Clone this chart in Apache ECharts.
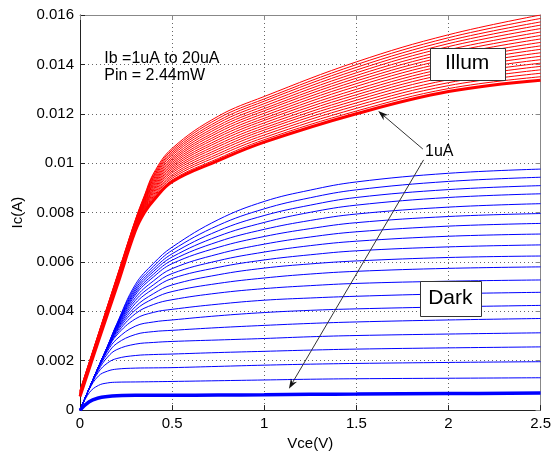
<!DOCTYPE html>
<html><head><meta charset="utf-8">
<script src="https://cdn.jsdelivr.net/npm/echarts@6/dist/echarts.min.js"></script>
<style>html,body{margin:0;padding:0;background:#fff}#c{width:554px;height:456px}</style>
</head><body><div id="c"></div>
<script>
// ---- axes / ticks ----
const xTicks = [0, 0.5, 1, 1.5, 2, 2.5];
const yTicks = [0, 0.002, 0.004, 0.006, 0.008, 0.01, 0.012, 0.014, 0.016];
const xTitle = 'Vce(V)';
const yTitle = 'Ic(A)';

// ---- Dark curves (Ib = 1uA .. 20uA), Vce sample points ----
const darkV = [0, 0.05, 0.1, 0.15, 0.2, 0.3, 0.4, 0.5, 0.75, 1, 1.25, 1.5, 2, 2.5];
const dark01 = [0, 0.00034, 0.00049, 0.00055, 0.00058, 0.0006, 0.0006, 0.0006, 0.00061, 0.00062, 0.00064, 0.00065, 0.00067, 0.00069];
const dark02 = [0, 0.0007, 0.001, 0.0011, 0.00113, 0.00114, 0.00115, 0.00116, 0.00119, 0.00122, 0.00125, 0.00127, 0.00129, 0.00131];
const dark03 = [0, 0.00084, 0.00138, 0.00158, 0.00166, 0.0017, 0.00171, 0.00172, 0.00177, 0.00182, 0.00186, 0.00189, 0.00193, 0.00196];
const dark04 = [0, 0.00086, 0.00154, 0.00191, 0.00209, 0.00221, 0.00225, 0.00227, 0.00233, 0.00238, 0.00243, 0.00247, 0.00252, 0.00256];
const dark05 = [0, 0.00087, 0.00162, 0.00215, 0.00245, 0.00267, 0.00274, 0.00278, 0.00284, 0.0029, 0.00297, 0.00302, 0.00308, 0.00313];
const dark06 = [0, 0.00087, 0.00168, 0.00229, 0.0027, 0.00306, 0.00318, 0.00323, 0.00334, 0.00343, 0.00351, 0.00357, 0.00365, 0.00371];
const dark07 = [0, 0.00087, 0.0017, 0.0024, 0.00288, 0.0034, 0.00357, 0.00365, 0.00382, 0.00395, 0.00404, 0.0041, 0.00418, 0.00424];
const dark08 = [0, 0.00087, 0.00172, 0.00246, 0.00304, 0.00369, 0.00396, 0.00408, 0.00429, 0.00445, 0.00454, 0.00461, 0.00471, 0.00477];
const dark09 = [0, 0.00087, 0.00172, 0.0025, 0.00311, 0.0039, 0.00428, 0.00447, 0.00474, 0.00492, 0.00504, 0.00513, 0.00522, 0.00527];
const dark10 = [0, 0.00087, 0.00173, 0.00251, 0.00318, 0.00405, 0.00452, 0.0048, 0.00513, 0.00535, 0.00551, 0.00562, 0.00574, 0.0058];
const dark11 = [0, 0.00087, 0.00173, 0.00252, 0.00323, 0.00418, 0.00472, 0.00507, 0.00548, 0.00575, 0.00592, 0.00604, 0.00618, 0.00624];
const dark12 = [0, 0.00087, 0.00174, 0.00254, 0.00327, 0.00432, 0.00492, 0.00533, 0.00578, 0.00608, 0.00629, 0.00645, 0.00661, 0.00669];
const dark13 = [0, 0.00087, 0.00174, 0.00255, 0.00331, 0.00444, 0.00508, 0.00553, 0.00605, 0.0064, 0.00666, 0.00684, 0.00704, 0.00713];
const dark14 = [0, 0.00088, 0.00174, 0.00256, 0.00335, 0.00455, 0.00524, 0.00573, 0.00632, 0.00672, 0.00701, 0.00722, 0.00745, 0.00756];
const dark15 = [0, 0.00088, 0.00174, 0.00257, 0.00338, 0.00466, 0.0054, 0.00593, 0.00659, 0.00703, 0.00735, 0.00759, 0.00784, 0.00796];
const dark16 = [0, 0.00088, 0.00174, 0.00257, 0.00341, 0.00474, 0.00551, 0.00607, 0.00682, 0.00732, 0.00768, 0.00794, 0.00822, 0.00836];
const dark17 = [0, 0.00088, 0.00175, 0.00258, 0.00343, 0.00482, 0.00562, 0.0062, 0.00704, 0.0076, 0.00801, 0.0083, 0.00861, 0.00876];
const dark18 = [0, 0.00088, 0.00175, 0.00259, 0.00345, 0.0049, 0.00572, 0.00633, 0.00726, 0.00788, 0.0083, 0.00861, 0.00893, 0.00909];
const dark19 = [0, 0.00088, 0.00175, 0.0026, 0.00348, 0.00499, 0.00583, 0.00647, 0.00748, 0.00815, 0.0086, 0.00892, 0.00926, 0.00943];
const dark20 = [0, 0.00088, 0.00175, 0.0026, 0.0035, 0.00508, 0.00595, 0.0066, 0.00771, 0.00845, 0.00891, 0.00924, 0.00959, 0.00976];

// ---- Illuminated curves (Pin = 2.44mW) ----
const illumV = [0, 0.1, 0.2, 0.3, 0.35, 0.4, 0.5, 0.75, 1, 1.5, 2, 2.5];
const illum01 = [0.00055, 0.0028, 0.005, 0.00725, 0.008, 0.0085, 0.00925, 0.0101, 0.01085, 0.012, 0.0129, 0.01336];
const illum02 = [0.00056, 0.00282, 0.00502, 0.00727, 0.00804, 0.00856, 0.00932, 0.01019, 0.01095, 0.01211, 0.01302, 0.0135];
const illum03 = [0.00058, 0.00283, 0.00504, 0.0073, 0.00807, 0.00862, 0.00939, 0.01029, 0.01104, 0.01222, 0.01314, 0.01364];
const illum04 = [0.00059, 0.00285, 0.00506, 0.00732, 0.00811, 0.00867, 0.00946, 0.01038, 0.01114, 0.01233, 0.01326, 0.01378];
const illum05 = [0.0006, 0.00286, 0.00508, 0.00734, 0.00815, 0.00873, 0.00953, 0.01048, 0.01124, 0.01244, 0.01338, 0.01392];
const illum06 = [0.00062, 0.00288, 0.00511, 0.00737, 0.00818, 0.00879, 0.00961, 0.01057, 0.01134, 0.01255, 0.01351, 0.01405];
const illum07 = [0.00063, 0.00289, 0.00513, 0.00739, 0.00822, 0.00885, 0.00968, 0.01067, 0.01143, 0.01266, 0.01363, 0.01419];
const illum08 = [0.00064, 0.00291, 0.00515, 0.00742, 0.00826, 0.00891, 0.00975, 0.01076, 0.01153, 0.01277, 0.01375, 0.01433];
const illum09 = [0.00066, 0.00293, 0.00517, 0.00744, 0.00829, 0.00896, 0.00982, 0.01086, 0.01163, 0.01288, 0.01387, 0.01447];
const illum10 = [0.00067, 0.00294, 0.00519, 0.00746, 0.00833, 0.00902, 0.00989, 0.01095, 0.01173, 0.01299, 0.01399, 0.01461];
const illum11 = [0.00068, 0.00296, 0.00521, 0.00749, 0.00837, 0.00908, 0.00996, 0.01105, 0.01182, 0.01311, 0.01411, 0.01475];
const illum12 = [0.00069, 0.00297, 0.00523, 0.00751, 0.00841, 0.00914, 0.01003, 0.01114, 0.01192, 0.01322, 0.01423, 0.01489];
const illum13 = [0.00071, 0.00299, 0.00525, 0.00753, 0.00844, 0.00919, 0.0101, 0.01124, 0.01202, 0.01333, 0.01435, 0.01503];
const illum14 = [0.00072, 0.00301, 0.00527, 0.00756, 0.00848, 0.00925, 0.01017, 0.01133, 0.01212, 0.01344, 0.01447, 0.01517];
const illum15 = [0.00073, 0.00302, 0.00529, 0.00758, 0.00852, 0.00931, 0.01024, 0.01143, 0.01221, 0.01355, 0.01459, 0.01531];
const illum16 = [0.00075, 0.00304, 0.00532, 0.00761, 0.00855, 0.00937, 0.01032, 0.01152, 0.01231, 0.01366, 0.01472, 0.01545];
const illum17 = [0.00076, 0.00305, 0.00534, 0.00763, 0.00859, 0.00943, 0.01039, 0.01162, 0.01241, 0.01377, 0.01484, 0.01559];
const illum18 = [0.00077, 0.00307, 0.00536, 0.00765, 0.00863, 0.00948, 0.01046, 0.01171, 0.01251, 0.01388, 0.01496, 0.01572];
const illum19 = [0.00079, 0.00308, 0.00538, 0.00768, 0.00866, 0.00954, 0.01053, 0.01181, 0.0126, 0.01399, 0.01508, 0.01586];
const illum20 = [0.0008, 0.0031, 0.0054, 0.0077, 0.0087, 0.0096, 0.0106, 0.0119, 0.0127, 0.0141, 0.0152, 0.016];

// ---- annotations (data coordinates) ----
const noteLines = ['Ib =1uA to 20uA', 'Pin = 2.44mW'];
const noteAt = [[0.1316, 0.01424], [0.1316, 0.01356]];
const illumLabel = 'Illum', illumLabelAt = [2.1015, 0.01403];
const darkLabel = 'Dark', darkLabelAt = [2.010, 0.00453];
const arrowLabel = '1uA', arrowLabelAt = [1.950, 0.01046];
const arrow1 = [[1.861, 0.010572], [1.619, 0.012108]];
const arrow2 = [[1.865, 0.010132], [1.134, 0.000868]];

const FONT = "'Liberation Sans', Arial, Helvetica, sans-serif";
const darkCurves = [dark01,dark02,dark03,dark04,dark05,dark06,dark07,dark08,dark09,dark10,dark11,dark12,dark13,dark14,dark15,dark16,dark17,dark18,dark19,dark20];
const illumCurves = [illum01,illum02,illum03,illum04,illum05,illum06,illum07,illum08,illum09,illum10,illum11,illum12,illum13,illum14,illum15,illum16,illum17,illum18,illum19,illum20];

function curve(name, xs, ys, color, width, z) {
  return {
    type: 'line', name: name, xAxisIndex: 0, yAxisIndex: 0,
    data: xs.map((x, i) => [x, ys[i]]),
    showSymbol: false, symbol: 'none', smooth: 0.4,
    lineStyle: { color: color, width: width }, itemStyle: { color: color },
    z: z, silent: true, clip: true
  };
}
const series = [];
illumCurves.forEach((c, i) => series.push(curve('Illum ' + (i + 1) + 'uA', illumV, c, '#ff0000', i === 0 ? 3 : 1, i === 0 ? 4 : 3)));
darkCurves.forEach((c, i) => series.push(curve('Dark ' + (i + 1) + 'uA', darkV, c, '#0000ff', i === 0 ? 3.5 : 1, i === 0 ? 4 : 3)));

const xStep = xTicks[1] - xTicks[0], yStep = yTicks[1] - yTicks[0];
const labelStyle = { color: '#000', fontSize: 15, fontFamily: FONT };
const option = {
  animation: false,
  backgroundColor: '#fff',
  grid: { left: 80, right: 9, top: 15, bottom: 41, containLabel: false },
  xAxis: [
    { type: 'value', position: 'bottom', min: xTicks[0], max: xTicks[xTicks.length - 1], interval: xStep,
      name: xTitle, nameLocation: 'middle', nameGap: 21, nameTextStyle: labelStyle,
      axisLine: { show: true, onZero: false, lineStyle: { color: '#222', width: 1 } },
      axisTick: { show: true, inside: true, length: 5, lineStyle: { color: '#222' } },
      axisLabel: Object.assign({ margin: 6, formatter: v => String(v) }, labelStyle),
      splitLine: { show: true, lineStyle: { color: '#666', width: 1, type: [1, 3] } } },
    { type: 'value', position: 'top', min: xTicks[0], max: xTicks[xTicks.length - 1], interval: xStep,
      axisLine: { show: true, onZero: false, lineStyle: { color: '#888', width: 1 } },
      axisTick: { show: true, inside: true, length: 5, lineStyle: { color: '#888' } },
      axisLabel: { show: false }, splitLine: { show: false } }
  ],
  yAxis: [
    { type: 'value', position: 'left', min: yTicks[0], max: yTicks[yTicks.length - 1], interval: yStep,
      name: yTitle, nameLocation: 'middle', nameGap: 48, nameRotate: 90, nameTextStyle: labelStyle,
      axisLine: { show: true, onZero: false, lineStyle: { color: '#222', width: 1 } },
      axisTick: { show: true, inside: true, length: 5, lineStyle: { color: '#222' } },
      axisLabel: Object.assign({ margin: 6, formatter: v => String(+v.toFixed(3)) }, labelStyle),
      splitLine: { show: true, lineStyle: { color: '#666', width: 1, type: [1, 3] } } },
    { type: 'value', position: 'right', min: yTicks[0], max: yTicks[yTicks.length - 1], interval: yStep,
      axisLine: { show: true, onZero: false, lineStyle: { color: '#888', width: 1 } },
      axisTick: { show: true, inside: true, length: 5, lineStyle: { color: '#888' } },
      axisLabel: { show: false }, splitLine: { show: false } }
  ],
  series: series
};

const chart = echarts.init(document.getElementById('c'), null, { renderer: 'canvas' });
chart.setOption(option);

function px(p) { return chart.convertToPixel({ xAxisIndex: 0, yAxisIndex: 0 }, p); }
function arrowGraphic(a0, b0) {
  const a = px(a0), b = px(b0);
  const dx = b[0] - a[0], dy = b[1] - a[1], L = Math.hypot(dx, dy);
  const ux = dx / L, uy = dy / L, nx = -uy, ny = ux;
  const hl = 10, hw = 3.5, notch = 7;
  return [
    { type: 'line', z: 100, shape: { x1: a[0], y1: a[1], x2: b[0] - ux * notch, y2: b[1] - uy * notch },
      style: { stroke: '#333', lineWidth: 1 } },
    { type: 'polygon', z: 100, shape: { points: [
        [b[0], b[1]],
        [b[0] - ux * hl + nx * hw, b[1] - uy * hl + ny * hw],
        [b[0] - ux * notch, b[1] - uy * notch],
        [b[0] - ux * hl - nx * hw, b[1] - uy * hl - ny * hw]] },
      style: { fill: '#111' } }
  ];
}
function textG(str, at, size, align) {
  const p = px(at);
  return { type: 'text', z: 102, x: p[0], y: p[1],
    style: { text: str, fill: '#000', font: size + 'px ' + FONT, align: align, verticalAlign: 'middle',
             textAlign: align, textVerticalAlign: 'middle' } };
}
function boxG(str, at, w, h, size) {
  const p = px(at);
  return [
    { type: 'rect', z: 101, shape: { x: Math.round(p[0] - w / 2) + 0.5, y: Math.round(p[1] - h / 2) + 0.5, width: w, height: h },
      style: { fill: '#fff', stroke: '#333', lineWidth: 1 } },
    textG(str, at, size, 'center')
  ];
}
const graphics = [].concat(
  arrowGraphic(arrow1[0], arrow1[1]),
  arrowGraphic(arrow2[0], arrow2[1]),
  noteLines.map((t, i) => textG(t, noteAt[i], 16, 'left')),
  boxG(illumLabel, illumLabelAt, 75, 32, 21),
  boxG(darkLabel, darkLabelAt, 61, 35, 21),
  [textG(arrowLabel, arrowLabelAt, 16, 'center')]
);
chart.setOption({ graphic: graphics });
</script>
</body></html>
